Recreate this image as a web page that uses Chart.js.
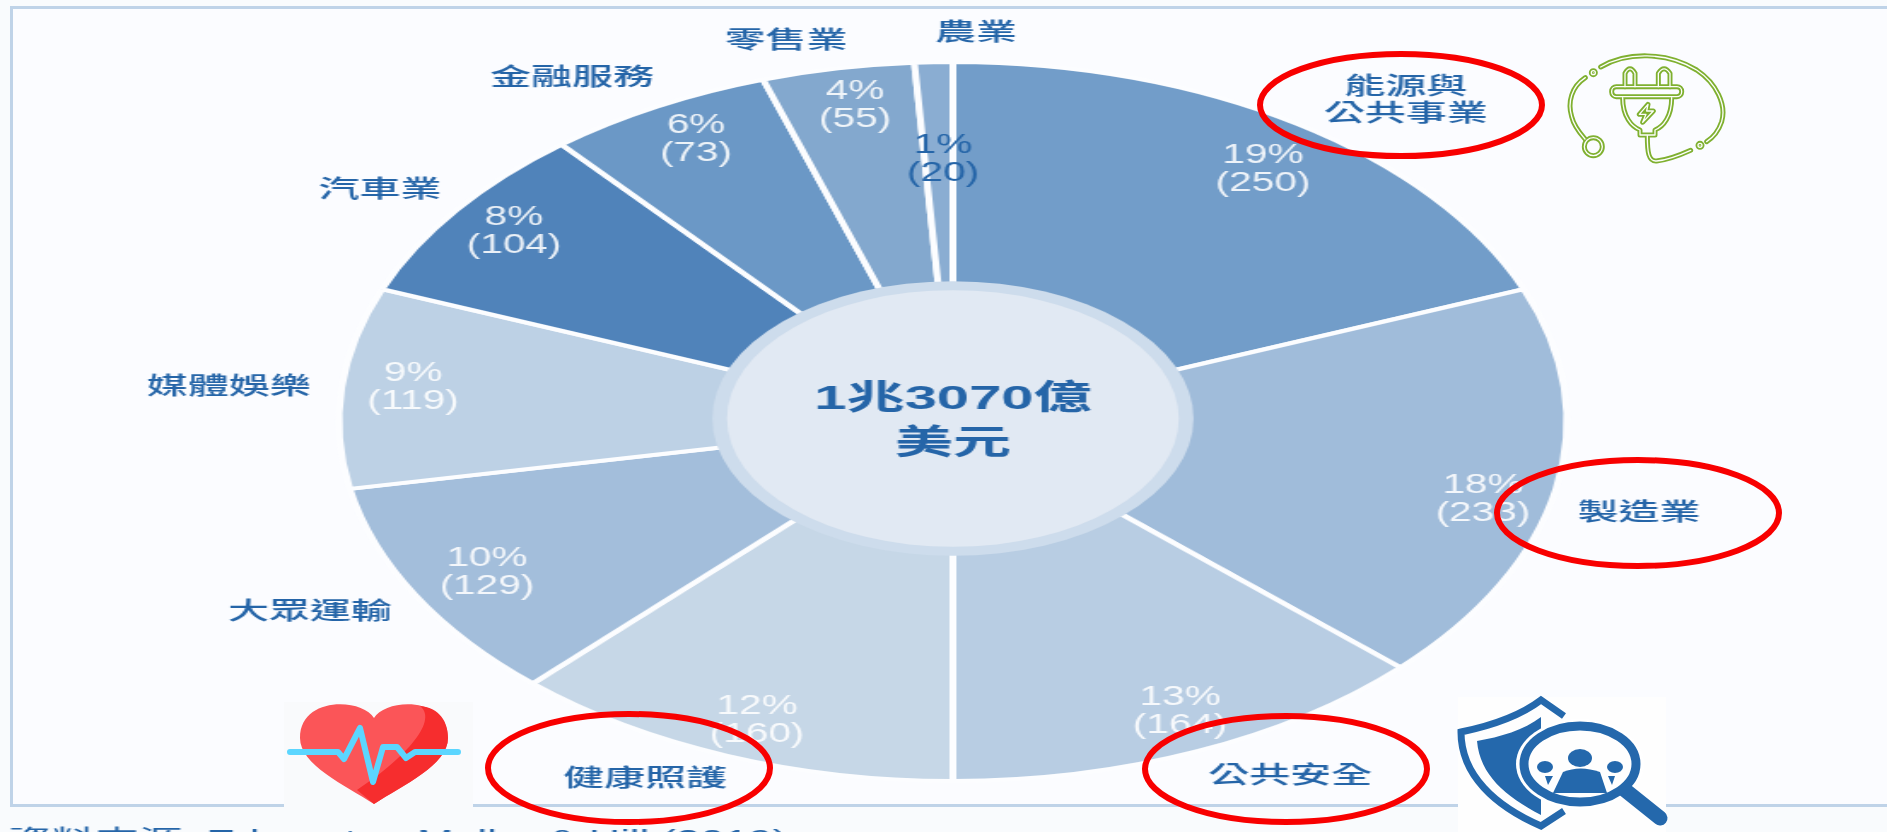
<!DOCTYPE html>
<html lang="zh-Hant">
<head>
<meta charset="utf-8">
<title>1兆3070億美元</title>
<style>
html,body{margin:0;padding:0;width:1887px;height:832px;overflow:hidden;background:#f9fbfd}
#frame{position:absolute;left:10px;top:6px;width:1900px;height:795px;border:3px solid #bfd3e8;background:#fbfcff}
#wrap{position:absolute;left:0;top:0;width:1105px;height:832px;transform-origin:0 0;transform:scaleX(1.7077)}
#c{display:block}
svg{position:absolute;overflow:visible}
</style>
</head>
<body>
<div id="frame"></div>
<div id="wrap"><canvas id="c" width="1105" height="832"></canvas></div>

<!-- heart icon -->
<svg style="left:284px;top:702px" width="189" height="108" viewBox="284 702 189 108">
  <rect x="284" y="702" width="189" height="108" fill="#f9fafc"/>
  <path d="M374 718C362 698 300 696 300 738C300 765 345 785 374 804C403 785 448 765 448 738C448 696 386 698 374 718Z" fill="#fb5558"/>
  <path d="M420 706C440 708 448 722 448 738C448 765 403 785 374 804L357 790C400 762 440 722 420 706Z" fill="#f62d2e"/>
  <path d="M290 752H338L344 759L360 728L373 782L383 747H397L406 758L415 752H458" fill="none" stroke="#5cd6ff" stroke-width="6" stroke-linecap="round" stroke-linejoin="round"/>
</svg>

<!-- shield icon -->
<svg style="left:1458px;top:697px" width="208" height="135" viewBox="1458 697 208 135">
  <rect x="1458" y="697" width="208" height="135" fill="#fefefe"/>
  <path d="M1564 716L1541 700C1520 716 1490 726 1461 732C1461 775 1495 806 1541 826L1564 811" fill="none" stroke="#2468ac" stroke-width="7"/>
  <path d="M1541 717V815C1505 796 1480 775 1477 741C1500 737 1524 730 1541 717Z" fill="#2468ac"/>
  <ellipse cx="1580" cy="764" rx="64" ry="45" fill="#fff"/>
  <path d="M1625 790L1660 818" stroke="#2468ac" stroke-width="15" stroke-linecap="round"/>
  <ellipse cx="1580" cy="764" rx="56" ry="38" fill="#fefefe" stroke="#2468ac" stroke-width="9"/>
  <ellipse cx="1580" cy="758" rx="12" ry="9" fill="#2468ac"/>
  <ellipse cx="1545" cy="767" rx="8" ry="6" fill="#2468ac"/>
  <ellipse cx="1615" cy="767" rx="8" ry="6" fill="#2468ac"/>
  <path d="M1553 793L1563 772Q1580 765 1600 772L1607 793Z" fill="#2468ac"/>
  <path d="M1545 776L1553 776L1548 785ZM1615 776L1608 776L1612 785Z" fill="#2468ac"/>
</svg>

<!-- plug icon -->
<svg style="left:1560px;top:45px" width="180" height="130" viewBox="0 0 540 390">
  <defs>
    <g id="plug" fill="none" stroke-linecap="round" stroke-linejoin="round">
      <path d="M122 66C200 20 320 20 410 75C470 115 500 180 485 230C475 260 455 280 440 290"/>
      <path d="M76 98C35 125 22 170 35 215C42 245 60 265 75 282"/>
      <path d="M392 316C350 335 320 345 290 348C265 350 262 320 262 272"/>
      <circle cx="100" cy="83" r="6"/>
      <circle cx="420" cy="301" r="6"/>
      <circle cx="100" cy="305" r="27"/>
      <path d="M195 125V85Q210 58 225 85V125M295 125V85Q312 58 330 85V125"/>
      <rect x="155" y="125" width="210" height="30" rx="14"/>
      <path d="M188 158C188 215 215 245 240 255V270H285V255C310 245 335 215 335 158"/>
      <path d="M264 178L238 208H258L248 232L280 198H260Z"/>
    </g>
  </defs>
  <use href="#plug" stroke="#7fb030" stroke-width="15"/>
  <use href="#plug" stroke="#fdfefc" stroke-width="4"/>
</svg>

<!-- red highlight ellipses -->
<svg style="left:0;top:0" width="1887" height="832" viewBox="0 0 1887 832">
  <g fill="none" stroke="#f80000" stroke-width="6">
    <ellipse cx="1401" cy="105" rx="141" ry="51"/>
    <ellipse cx="1638" cy="513" rx="141" ry="53"/>
    <ellipse cx="1286" cy="769" rx="141" ry="53"/>
    <ellipse cx="629" cy="768" rx="141" ry="54"/>
  </g>
</svg>

<script src="https://cdn.jsdelivr.net/npm/chart.js@4/dist/chart.umd.min.js"></script>
<script>
const categories = ['能源與\n公共事業','製造業','公共安全','健康照護','大眾運輸','媒體娛樂','汽車業','金融服務','零售業','農業'];
const percents = [19,18,13,12,10,9,8,6,4,1];
const amounts = [250,233,164,160,129,119,104,73,55,20];
const sliceColors = ['#729dc9','#a0bcda','#b8cde3','#c6d7e7','#a3bedb','#bdd1e5','#5083ba','#6b98c6','#83a8ce','#8aadd2'];
const centerLines = ['1兆3070億','美元'];
const sourceNote = '資料來源: Edmonton Muller & Hill (2019)';

const STRETCH = 1.7077;
const BLUE = '#2565a8';
const FAMILY = '"Liberation Sans","Noto Sans CJK TC",sans-serif';
/* where each text block sits on the page */
const nameAnchors = [[1406,101],[1639,513],[1290,776],[645,779],[310,612],[229,387],[380,190],[572,78],[786,41],[976,33]];
const pctAnchors = [[1263,170],[1483,500],[1180,712],[757,721],[487,573],[413,388],[514,232],[696,140],[855,106],[943,160]];

const overlay = {
  id:'overlay',
  afterDatasetsDraw(chart){
    const ctx = chart.ctx;
    const arcs = chart.getDatasetMeta(0).data;
    const cx = arcs[0].x, cy = arcs[0].y;
    const outer = arcs[0].outerRadius;
    /* centre disc */
    ctx.save();
    ctx.fillStyle = '#cddcec';
    ctx.beginPath(); ctx.ellipse(cx,cy-3,outer*.392,outer*.382,0,0,Math.PI*2); ctx.fill();
    ctx.fillStyle = '#e1e9f3';
    ctx.beginPath(); ctx.ellipse(cx,cy-3,outer*.368,outer*.357,0,0,Math.PI*2); ctx.fill();
    ctx.textAlign = 'center'; ctx.textBaseline = 'middle';
    ctx.fillStyle = BLUE;
    ctx.font = 'bold 34px '+FAMILY;
    ctx.fillText(centerLines[0],cx,cy-22);
    ctx.fillText(centerLines[1],cx,cy+23);
    /* percent and amount labels */
    ctx.font = '27px '+FAMILY;
    percents.forEach((p,i)=>{
      const x = pctAnchors[i][0]/STRETCH, y = pctAnchors[i][1];
      ctx.fillStyle = i===percents.length-1 ? BLUE : 'rgba(255,255,255,.88)';
      ctx.save();
      ctx.translate(x,y); ctx.scale(.88,1);
      ctx.fillText(p+'%',0,-14);
      ctx.fillText('('+amounts[i]+')',0,14);
      ctx.restore();
    });
    /* category names */
    ctx.fillStyle = BLUE;
    ctx.font = '500 24px '+FAMILY;
    categories.forEach((name,i)=>{
      const lines = name.split('\n');
      lines.forEach((t,k)=>{
        ctx.fillText(t,nameAnchors[i][0]/STRETCH,nameAnchors[i][1]+(k-(lines.length-1)/2)*27);
      });
    });
    /* source note, cut by the page edge as in the picture */
    ctx.textAlign = 'left';
    ctx.font = '25.5px '+FAMILY;
    ctx.fillText(sourceNote,8/STRETCH,841);
    ctx.restore();
  }
};

new Chart(document.getElementById('c'),{
  type:'doughnut',
  data:{labels:categories,datasets:[{
    data:percents,backgroundColor:sliceColors,
    borderWidth:4,borderColor:'#fcfdff',borderAlign:'center',hoverOffset:0
  }]},
  options:{
    responsive:false,animation:false,devicePixelRatio:1,
    cutout:'33%',rotation:0,
    layout:{padding:{top:60,bottom:49,left:196.5,right:185.5}},
    events:[],
    plugins:{legend:{display:false},tooltip:{enabled:false},title:{display:false}}
  },
  plugins:[overlay]
});
</script>
</body>
</html>
